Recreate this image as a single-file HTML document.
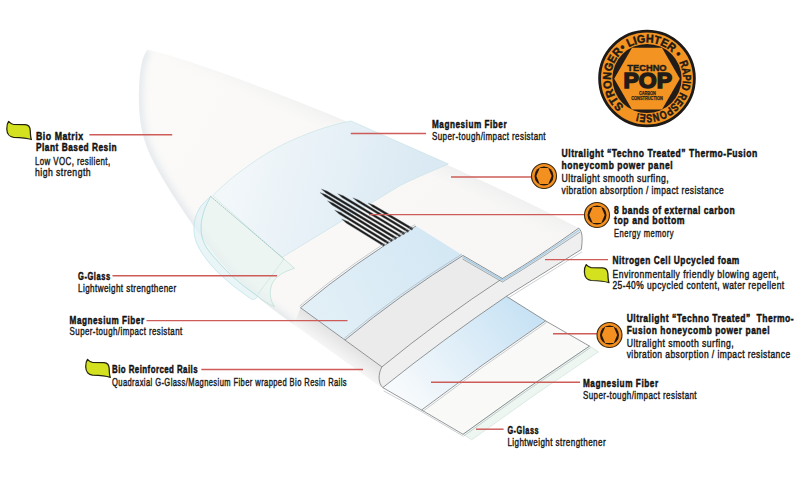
<!DOCTYPE html>
<html><head><meta charset="utf-8"><style>
html,body{margin:0;padding:0;background:#fff;}
body{width:800px;height:492px;overflow:hidden;position:relative;}
svg{position:absolute;left:0;top:0;}
.tb{font-family:"Liberation Sans",sans-serif;font-weight:bold;font-size:10.8px;fill:#111;stroke:#111;stroke-width:0.45px;}
.tr{font-family:"Liberation Sans",sans-serif;font-weight:normal;font-size:10.8px;fill:#1a1a1a;stroke:#1a1a1a;stroke-width:0.42px;}
.rl line{stroke:#cd5c58;stroke-width:1.45;}
</style></head><body>
<svg width="800" height="492" viewBox="0 0 800 492">
<defs>
<linearGradient id="gBoard" gradientUnits="userSpaceOnUse" x1="150" y1="60" x2="560" y2="300">
<stop offset="0" stop-color="#fbfaf9"/><stop offset="1" stop-color="#f7f6f5"/>
</linearGradient>
<linearGradient id="gRail" gradientUnits="userSpaceOnUse" x1="335" y1="334" x2="322" y2="352">
<stop offset="0" stop-color="#e4e4e4"/><stop offset="1" stop-color="#fcfcfc"/>
</linearGradient>
<linearGradient id="gBlue" gradientUnits="userSpaceOnUse" x1="240" y1="150" x2="420" y2="200">
<stop offset="0" stop-color="#f2f7fa"/><stop offset="1" stop-color="#dae9f3"/>
</linearGradient>
<linearGradient id="gBlue1" gradientUnits="userSpaceOnUse" x1="300" y1="320" x2="460" y2="240">
<stop offset="0" stop-color="#e4f0f7"/><stop offset="1" stop-color="#d2e7f4"/>
</linearGradient>
<linearGradient id="gBlue2" gradientUnits="userSpaceOnUse" x1="410" y1="405" x2="530" y2="300">
<stop offset="0" stop-color="#f7fafc"/><stop offset="1" stop-color="#c5e1f4"/>
</linearGradient>
<linearGradient id="gTopSh" gradientUnits="userSpaceOnUse" x1="420" y1="150" x2="410" y2="172">
<stop offset="0" stop-color="#ebebeb" stop-opacity="0.7"/><stop offset="1" stop-color="#f4f4f4" stop-opacity="0"/>
</linearGradient>
<linearGradient id="gEdge" gradientUnits="userSpaceOnUse" x1="150" y1="150" x2="175" y2="140">
<stop offset="0" stop-color="#ededed"/><stop offset="1" stop-color="#fafafa" stop-opacity="0"/>
</linearGradient>
</defs>
<path d="M147,49.6 C 200,61 400,136 578.7,228.1 C 583,232 582.5,240 581.3,249.5 L 506.4,296.3 Q 442.8,339.5 382.8,387.6 C 378,383 378,374 381.9,366.9 L 300.5,307.7 L 293.7,324.6 C 288.2,320.5 272.3,309.4 261.0,300.0 C 249.7,290.6 236.2,278.8 226.0,268.0 C 215.8,257.2 208.0,245.8 200.0,235.0 C 192.0,224.2 184.7,213.2 178.0,203.0 C 171.3,192.8 165.0,182.8 160.0,174.0 C 155.0,165.2 151.1,157.7 148.0,150.0 C 144.9,142.3 143.0,135.5 141.5,128.0 C 140.0,120.5 139.3,113.0 139.0,105.0 C 138.7,97.0 139.0,87.2 139.5,80.0 C 140.0,72.8 140.8,67.1 142.0,62.0 C 143.2,56.9 146.2,51.7 147.0,49.6 Z" fill="url(#gBoard)"/>
<filter id="blr" x="-20%" y="-20%" width="140%" height="140%"><feGaussianBlur stdDeviation="3"/></filter>
<clipPath id="silclip"><path d="M147,49.6 C 200,61 400,136 578.7,228.1 L 300,330 L 293.7,324.6 C 288.2,320.5 272.3,309.4 261.0,300.0 C 249.7,290.6 236.2,278.8 226.0,268.0 C 215.8,257.2 208.0,245.8 200.0,235.0 C 192.0,224.2 184.7,213.2 178.0,203.0 C 171.3,192.8 165.0,182.8 160.0,174.0 C 155.0,165.2 151.1,157.7 148.0,150.0 C 144.9,142.3 143.0,135.5 141.5,128.0 C 140.0,120.5 139.3,113.0 139.0,105.0 C 138.7,97.0 139.0,87.2 139.5,80.0 C 140.0,72.8 140.8,67.1 142.0,62.0 C 143.2,56.9 146.2,51.7 147.0,49.6 Z"/></clipPath>
<g clip-path="url(#silclip)"><path d="M147,49.6 C 146.2,51.7 143.2,56.9 142.0,62.0 C 140.8,67.1 140.0,72.8 139.5,80.0 C 139.0,87.2 138.7,97.0 139.0,105.0 C 139.3,113.0 140.0,120.5 141.5,128.0 C 143.0,135.5 144.9,142.3 148.0,150.0 C 151.1,157.7 155.0,165.2 160.0,174.0 C 165.0,182.8 171.3,192.8 178.0,203.0 C 184.7,213.2 192.0,224.2 200.0,235.0 C 208.0,245.8 215.8,257.2 226.0,268.0 C 236.2,278.8 249.7,290.6 261.0,300.0 C 272.3,309.4 288.2,320.5 293.7,324.6" fill="none" stroke="#e6eaed" stroke-width="9" filter="url(#blr)"/></g>
<path d="M147,49.6 C 200,61 400,136 578.7,228.1 L 560,240 C 420,160 250,100 150,60 Z" fill="url(#gTopSh)"/>
<path d="M293.7,324.6 L 300.5,307.7 L 381.9,366.9 C 378,374 378,383 382.8,387.6 L 380.6,386.9 Z" fill="url(#gRail)"/>
<path d="M351,121 L 448.4,164 C 430,172 415,178 400,185.6 L 281.8,257.5 L 212.7,195.6 C 230,178 262,153 293.6,139.6 C 315,130 335,124 351,121 Z" fill="url(#gBlue)" stroke="#c2e0e2" stroke-width="0.6"/>
<path d="M210.6,196.3 C 209.5,198.8 205.6,205.7 204.0,211.0 C 202.4,216.3 200.8,222.3 201.0,228.0 C 201.2,233.7 201.7,238.8 205.0,245.0 C 208.3,251.2 215.2,258.7 221.0,265.0 C 226.8,271.3 233.8,277.8 240.0,283.0 C 246.2,288.2 255.0,294.2 258.0,296.5 C 262,300 268,304 274.4,306.7 C 270,300 269,292 272,284 C 276,276 283,272 294.5,268.3 L 284,259 Z" fill="#e6f3ef" fill-opacity="0.65" stroke="#a9d8cc" stroke-width="0.55"/>
<path d="M210.6,196.3 C 208.7,198.4 201.8,204.1 199.0,209.0 C 196.2,213.9 194.3,220.2 194.0,226.0 C 193.7,231.8 194.2,237.5 197.0,244.0 C 199.8,250.5 205.3,258.3 211.0,265.0 C 216.7,271.7 224.4,278.4 231.0,284.0 C 237.6,289.6 247.2,296.1 250.5,298.5 C 252,300 255,300 258,296.5 C 255.0,294.2 246.2,288.2 240.0,283.0 C 233.8,277.8 226.8,271.3 221.0,265.0 C 215.2,258.7 208.3,251.2 205.0,245.0 C 201.7,238.8 201.2,233.7 201.0,228.0 C 200.8,222.3 202.4,216.3 204.0,211.0 C 205.6,205.7 209.5,198.8 210.6,196.3 Z" fill="#e1f1f5" fill-opacity="0.7" stroke="#a8dbe2" stroke-width="0.55"/>
<path d="M284,259 L 258,294" fill="none" stroke="#b5dcd6" stroke-width="0.5"/>
<path d="M210.6,196.3 L 284,259" fill="none" stroke="#8fb3b0" stroke-width="0.6" stroke-dasharray="1.6,1.1"/>
<path d="M300.5,307.7 Q 354.8,262.0 416.0,226.0 L 463.0,255.5 Q 401.1,293.7 345.0,340.0 Z" fill="url(#gBlue1)"/>
<path d="M345.0,340.0 Q 401.1,293.7 463.0,255.5 L 502.4,278.5 Q 439.8,319.5 381.9,366.9 Z" fill="#ebebeb"/>
<path d="M381.9,366.9 Q 439.8,319.5 502.4,278.5 C 530,262 555,245 578.7,228.1 C 583,232 582.5,240 581.3,249.5 L 506.4,296.3 Q 442.8,339.5 382.8,387.6 C 378,383 378,374 381.9,366.9 Z" fill="#efefef"/>
<path d="M382.8,387.6 Q 442.8,339.5 506.4,296.3 L 545.6,320.9 Q 482.4,363.8 421.6,410.0 Z" fill="url(#gBlue2)"/>
<path d="M421.6,410.0 Q 482.4,363.8 545.6,320.9 L 589.5,346.1 Q 525.1,388.6 463.0,434.3 Z" fill="#f9f9f8"/>
<path d="M463.0,434.3 Q 525.1,388.6 589.5,346.1 L 598.5,351.8 Q 534.0,394.2 471.7,439.8 Z" fill="#eef6f2" stroke="#c8ded4" stroke-width="0.6"/>
<g fill="#1c1c1c" stroke="#7a8086" stroke-width="0.35" stroke-linejoin="round"><path d="M368.0,203.0 L372.6,207.0 L412.0,230.2 L413.1,228.3 L373.7,205.1 Z"/><path d="M352.8,197.8 L357.4,201.8 L408.0,232.5 L409.1,230.6 L358.5,200.0 Z"/><path d="M337.6,193.7 L342.2,197.7 L403.9,234.8 L405.1,232.9 L343.3,195.8 Z"/><path d="M321.3,189.0 L325.9,193.0 L399.9,237.1 L401.0,235.2 L327.0,191.1 Z"/><path d="M320.0,192.5 L324.6,196.5 L395.8,239.4 L397.0,237.5 L325.7,194.6 Z"/><path d="M327.4,200.8 L331.9,204.9 L391.8,241.7 L392.9,239.8 L333.1,203.0 Z"/><path d="M334.5,210.0 L339.0,214.1 L387.7,244.0 L388.9,242.1 L340.2,212.2 Z"/><path d="M341.6,219.0 L346.1,223.1 L383.7,246.3 L384.8,244.4 L347.3,221.2 Z"/></g>
<g fill="none" stroke="#676b6f" stroke-width="0.7">
<path d="M300.5,307.7 Q 354.8,262.0 416.0,226.0" stroke-width="0.7"/><path d="M299.5,306.2 Q 353.7,260.5 415.0,224.5" stroke="#9aa3a8" stroke-width="0.5"/>
<path d="M345.0,340.0 Q 401.1,293.7 463.0,255.5" stroke-width="0.7"/><path d="M344.0,338.5 Q 400.0,292.2 462.0,254.0" stroke="#9aa3a8" stroke-width="0.5"/>
<path d="M300.5,307.7 L 381.9,366.9 C 378,374 378,383 382.8,387.6 L 421.6,410.0 L 463.0,434.3"/>
<path d="M383.6,390.8 L 422.2,412 L 463.6,436.4" stroke="#9aa3a8" stroke-width="0.5"/>
<path d="M381.9,366.9 Q 439.8,319.5 502.4,278.5"/>
<path d="M382.8,387.6 Q 442.8,339.5 506.4,296.3 L 545.6,320.9 L 589.5,346.1"/>
<path d="M421.6,410.0 Q 482.4,363.8 545.6,320.9" stroke-width="0.7"/><path d="M422.7,411.5 Q 483.5,365.3 546.7,322.4" stroke="#9aa3a8" stroke-width="0.5"/>
<path d="M463.0,434.3 Q 525.1,388.6 589.5,346.1" stroke-width="0.7"/><path d="M464.0,435.8 Q 526.1,390.0 590.5,347.6" stroke="#9aa3a8" stroke-width="0.5"/>
<path d="M506.4,296.3 L 581.3,249.5"/><path d="M507.8,298.2 L 582.0,251.8" stroke="#9aa3a8" stroke-width="0.5"/>
</g>
<g fill="none">
<path d="M463.0,255.5 L 502.4,278.5 C 530,262 555,245 578.7,228.1" stroke="#5f6a70" stroke-width="0.7"/>
<path d="M462.8,257.2 L 502.4,280.2 C 530,263.7 555,246.7 579.3,230" stroke="#a7cde6" stroke-width="1.4"/>
<path d="M462.5,259 L 502.4,282 C 530,265.5 555,248.5 580,232" stroke="#6f7a80" stroke-width="0.6"/>
<path d="M578.7,228.1 C 583,232 582.5,240 581.3,249.5" stroke="#676b6f" stroke-width="0.7"/>
</g>
<g class="rl">
<line x1="89.4" y1="134.7" x2="172.2" y2="134.7"/>
<line x1="350.8" y1="133.4" x2="426" y2="133.4"/>
<line x1="451" y1="177" x2="531" y2="177"/>
<line x1="369" y1="214.6" x2="585" y2="214.6"/>
<line x1="545" y1="259.6" x2="608" y2="259.6"/>
<line x1="112.5" y1="275.8" x2="277" y2="275.8"/>
<line x1="146.5" y1="320.6" x2="347.5" y2="320.6"/>
<line x1="201.3" y1="369.4" x2="363" y2="369.4"/>
<line x1="553" y1="333.7" x2="597" y2="333.7"/>
<line x1="431" y1="382.3" x2="580" y2="382.3"/>
<line x1="476" y1="429.2" x2="503.6" y2="429.2"/>
</g>
<defs><clipPath id="icl"><circle cx="0" cy="0" r="8.5"/></clipPath></defs>
<g transform="translate(544,176)"><circle r="12.5" fill="#f39020" stroke="#3a2810" stroke-width="1.1"/><circle r="9.5" fill="#22170c"/><polygon points="-7.7,0 -4.3,-8.0 4.3,-8.0 7.7,0 4.3,8.0 -4.3,8.0" fill="#f39020"/></g>
<g transform="translate(597,215)"><circle r="12.5" fill="#f39020" stroke="#3a2810" stroke-width="1.1"/><circle r="9.5" fill="#22170c"/><polygon points="-7.7,0 -4.3,-8.0 4.3,-8.0 7.7,0 4.3,8.0 -4.3,8.0" fill="#f39020"/></g>
<g transform="translate(609.5,335)"><circle r="12.5" fill="#f39020" stroke="#3a2810" stroke-width="1.1"/><circle r="9.5" fill="#22170c"/><polygon points="-7.7,0 -4.3,-8.0 4.3,-8.0 7.7,0 4.3,8.0 -4.3,8.0" fill="#f39020"/></g>
<path transform="translate(8.6,121.4)" d="M0,0 C 1.2,1.3 2.8,3 5,3.1 L 16.5,3.3 C 20.3,3.5 21.6,6 21.7,9.5 C 21.8,13.5 22,16.3 22.8,18.1 C 19,16.8 15,16.2 5,15.9 C 1.2,15.6 -1.7,12.5 -1.8,7.5 C -1.8,4.2 -1.2,1.6 0,0 Z" fill="#d4e11f" stroke="#22220e" stroke-width="1.25" stroke-linejoin="round"/>
<path transform="translate(586.2,264.6)" d="M0,0 C 1.2,1.3 2.8,3 5,3.1 L 16.5,3.3 C 20.3,3.5 21.6,6 21.7,9.5 C 21.8,13.5 22,16.3 22.8,18.1 C 19,16.8 15,16.2 5,15.9 C 1.2,15.6 -1.7,12.5 -1.8,7.5 C -1.8,4.2 -1.2,1.6 0,0 Z" fill="#d4e11f" stroke="#22220e" stroke-width="1.25" stroke-linejoin="round"/>
<path transform="translate(87.5,359.3)" d="M0,0 C 1.2,1.3 2.8,3 5,3.1 L 16.5,3.3 C 20.3,3.5 21.6,6 21.7,9.5 C 21.8,13.5 22,16.3 22.8,18.1 C 19,16.8 15,16.2 5,15.9 C 1.2,15.6 -1.7,12.5 -1.8,7.5 C -1.8,4.2 -1.2,1.6 0,0 Z" fill="#d4e11f" stroke="#22220e" stroke-width="1.25" stroke-linejoin="round"/>
<g id="logo">
<defs><path id="ringp" d="M 647,114.5 A 36.0 36.0 0 1 1 647,42.5 A 36.0 36.0 0 1 1 647,114.5 A 36.0 36.0 0 1 1 647,42.5 A 36.0 36.0 0 1 1 647,114.5"/></defs>
<circle cx="647" cy="78.5" r="47.4" fill="#f39422" stroke="#1e1a17" stroke-width="2.8"/>
<circle cx="647" cy="78.5" r="34.6" fill="#221c18"/>
<polygon points="614.2,78.7 632,47.8 662,47.8 679.8,78.7 662,109.6 632,109.6" fill="#f39422"/>
<text font-family="Liberation Sans" font-weight="bold" font-size="11.4px" fill="#1e1a17" stroke="#1e1a17" stroke-width="0.5"><textPath href="#ringp" startOffset="24.8" textLength="61.6" lengthAdjust="spacingAndGlyphs">STRONGER</textPath></text><text font-family="Liberation Sans" font-weight="bold" font-size="11.4px" fill="#1e1a17" stroke="#1e1a17" stroke-width="0.5"><textPath href="#ringp" startOffset="87.1" textLength="60.3" lengthAdjust="spacingAndGlyphs">• LIGHTER •</textPath></text><text font-family="Liberation Sans" font-weight="bold" font-size="11.4px" fill="#1e1a17" stroke="#1e1a17" stroke-width="0.5"><textPath href="#ringp" startOffset="152.7" textLength="83.1" lengthAdjust="spacingAndGlyphs">RAPID RESPONSE!</textPath></text>
<text x="627.3" y="70.8" textLength="39.3" lengthAdjust="spacingAndGlyphs" font-family="Liberation Sans" font-weight="bold" font-size="9.2px" fill="#221c18" stroke="#221c18" stroke-width="0.45">TECHNO</text>
<text x="623.4" y="88.4" textLength="48.6" lengthAdjust="spacingAndGlyphs" font-family="Liberation Sans" font-weight="bold" font-size="21.2px" fill="#221c18" stroke="#221c18" stroke-width="1.5">POP</text>
<text x="638.9" y="94.6" textLength="16.9" lengthAdjust="spacingAndGlyphs" font-family="Liberation Sans" font-weight="bold" font-size="6px" fill="#221c18" stroke="#221c18" stroke-width="0.25">CARBON</text>
<text x="631.2" y="100.2" textLength="31.6" lengthAdjust="spacingAndGlyphs" font-family="Liberation Sans" font-weight="bold" font-size="6px" fill="#221c18" stroke="#221c18" stroke-width="0.25">CONSTRUCTION</text>
</g>

<text class="tb" transform="matrix(0.8120,0,0,1,36,140.4)" x="0" y="0" textLength="58.00" lengthAdjust="spacing">Bio Matrix</text>
<text class="tb" transform="matrix(0.7699,0,0,1,36,151.4)" x="0" y="0" textLength="104.69" lengthAdjust="spacing">Plant Based Resin</text>
<text class="tr" transform="matrix(0.7314,0,0,1,35,165.4)" x="0" y="0" textLength="102.67" lengthAdjust="spacing">Low VOC, resilient,</text>
<text class="tr" transform="matrix(0.8014,0,0,1,35,176.4)" x="0" y="0" textLength="69.38" lengthAdjust="spacing">high strength</text>
<text class="tb" transform="matrix(0.7561,0,0,1,432,128.4)" x="0" y="0" textLength="98.66" lengthAdjust="spacing">Magnesium Fiber</text>
<text class="tr" transform="matrix(0.7407,0,0,1,432,139.8)" x="0" y="0" textLength="153.37" lengthAdjust="spacing">Super-tough/impact resistant</text>
<text class="tb" transform="matrix(0.7939,0,0,1,561.6,157.4)" x="0" y="0" textLength="246.39" lengthAdjust="spacing">Ultralight “Techno Treated” Thermo-Fusion</text>
<text class="tb" transform="matrix(0.7891,0,0,1,561.6,168.7)" x="0" y="0" textLength="140.66" lengthAdjust="spacing">honeycomb power panel</text>
<text class="tr" transform="matrix(0.8064,0,0,1,561.6,182.4)" x="0" y="0" textLength="132.69" lengthAdjust="spacing">Ultralight smooth surfing,</text>
<text class="tr" transform="matrix(0.7786,0,0,1,561.6,193.7)" x="0" y="0" textLength="208.06" lengthAdjust="spacing">vibration absorption / impact resistance</text>
<text class="tb" transform="matrix(0.7899,0,0,1,614,213.8)" x="0" y="0" textLength="152.67" lengthAdjust="spacing">8 bands of external carbon</text>
<text class="tb" transform="matrix(0.8088,0,0,1,614,224.4)" x="0" y="0" textLength="87.29" lengthAdjust="spacing">top and bottom</text>
<text class="tr" transform="matrix(0.7039,0,0,1,614,236.9)" x="0" y="0" textLength="84.67" lengthAdjust="spacing">Energy memory</text>
<text class="tb" transform="matrix(0.7763,0,0,1,612.5,263.9)" x="0" y="0" textLength="163.33" lengthAdjust="spacing">Nitrogen Cell Upcycled foam</text>
<text class="tr" transform="matrix(0.7983,0,0,1,612.5,277.6)" x="0" y="0" textLength="208.06" lengthAdjust="spacing">Environmentally friendly blowing agent,</text>
<text class="tr" transform="matrix(0.7798,0,0,1,612.5,288.9)" x="0" y="0" textLength="220.07" lengthAdjust="spacing">25-40% upcycled content, water repellent</text>
<text class="tb" transform="matrix(0.7932,0,0,1,626.7,321.7)" x="0" y="0" textLength="210.42" lengthAdjust="spacing">Ultralight “Techno Treated”  Thermo-</text>
<text class="tb" transform="matrix(0.7795,0,0,1,626.7,333.7)" x="0" y="0" textLength="183.32" lengthAdjust="spacing">Fusion honeycomb power panel</text>
<text class="tr" transform="matrix(0.8056,0,0,1,626.7,347.4)" x="0" y="0" textLength="132.69" lengthAdjust="spacing">Ultralight smooth surfing,</text>
<text class="tr" transform="matrix(0.7854,0,0,1,626.7,357.9)" x="0" y="0" textLength="208.06" lengthAdjust="spacing">vibration absorption / impact resistance</text>
<text class="tb" transform="matrix(0.7612,0,0,1,583,387.0)" x="0" y="0" textLength="98.66" lengthAdjust="spacing">Magnesium Fiber</text>
<text class="tr" transform="matrix(0.7407,0,0,1,583,399.3)" x="0" y="0" textLength="153.37" lengthAdjust="spacing">Super-tough/impact resistant</text>
<text class="tb" transform="matrix(0.6782,0,0,1,507.4,433.8)" x="0" y="0" textLength="46.01" lengthAdjust="spacing">G-Glass</text>
<text class="tr" transform="matrix(0.7474,0,0,1,507.4,446.4)" x="0" y="0" textLength="131.39" lengthAdjust="spacing">Lightweight strengthener</text>
<text class="tb" transform="matrix(0.6977,0,0,1,78,279.9)" x="0" y="0" textLength="46.01" lengthAdjust="spacing">G-Glass</text>
<text class="tr" transform="matrix(0.7474,0,0,1,78,291.9)" x="0" y="0" textLength="131.39" lengthAdjust="spacing">Lightweight strengthener</text>
<text class="tb" transform="matrix(0.7551,0,0,1,69.6,324.0)" x="0" y="0" textLength="98.66" lengthAdjust="spacing">Magnesium Fiber</text>
<text class="tr" transform="matrix(0.7342,0,0,1,69.6,335.4)" x="0" y="0" textLength="153.37" lengthAdjust="spacing">Super-tough/impact resistant</text>
<text class="tb" transform="matrix(0.7296,0,0,1,112,372.7)" x="0" y="0" textLength="117.33" lengthAdjust="spacing">Bio Reinforced Rails</text>
<text class="tr" transform="matrix(0.6995,0,0,1,112,386.4)" x="0" y="0" textLength="335.38" lengthAdjust="spacing">Quadraxial G-Glass/Magnesium Fiber wrapped Bio Resin Rails</text>
</svg>
</body></html>
